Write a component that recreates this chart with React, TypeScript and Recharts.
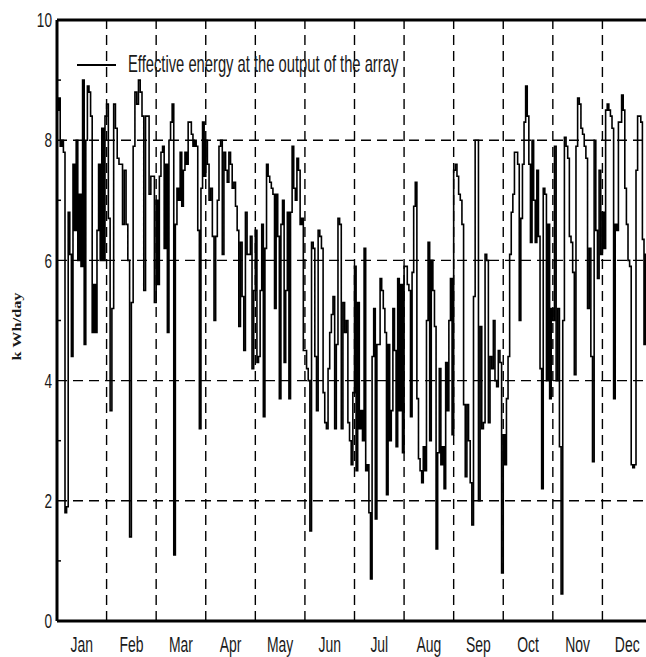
import React from 'react'
import { LineChart, Line, XAxis, YAxis, ReferenceLine } from 'recharts'

// daily effective energy (kWh/day), one array per month
const jan = [8.5, 8.7, 7.9, 8.0, 7.8, 1.8, 1.9, 6.8, 6.1, 4.4, 7.6, 6.5, 8.0, 6.0, 7.1, 5.9, 9.0, 4.6, 8.0, 8.9, 8.8, 8.4, 4.8, 5.6, 4.8, 6.5, 7.6, 6.0, 8.2, 6.0, 8.4]
const feb = [8.6, 6.7, 3.5, 5.2, 8.6, 8.2, 7.7, 7.6, 7.6, 6.6, 7.5, 6.6, 6.0, 1.4, 5.3, 7.9, 8.8, 8.6, 9.0, 8.8, 8.4, 5.5, 8.4, 8.4, 7.1, 7.4, 7.4, 5.3]
const mar = [7.0, 5.6, 7.4, 7.8, 7.9, 6.2, 7.6, 4.8, 8.0, 8.3, 8.6, 1.1, 6.6, 7.2, 7.0, 7.8, 6.9, 7.5, 7.8, 7.6, 8.3, 8.3, 8.1, 7.9, 8.0, 7.9, 6.5, 3.2, 7.2, 8.3, 7.4]
const apr = [8.0, 7.6, 7.0, 7.2, 6.4, 5.0, 6.4, 7.0, 7.9, 8.0, 6.1, 7.8, 7.5, 7.3, 7.8, 7.6, 7.2, 7.3, 6.9, 6.5, 4.9, 6.3, 5.4, 4.5, 6.8, 6.1, 6.1, 6.4, 4.2, 5.5]
const may = [6.5, 4.3, 4.4, 5.5, 6.6, 3.4, 6.2, 7.6, 7.4, 7.3, 7.2, 7.1, 5.2, 7.1, 6.4, 3.7, 6.6, 7.0, 4.3, 5.5, 6.8, 3.7, 6.8, 7.9, 7.2, 7.0, 7.7, 7.5, 6.6, 6.7, 4.5]
const jun = [4.5, 4.2, 4.0, 1.5, 6.3, 6.2, 4.4, 3.5, 6.5, 6.4, 6.2, 3.8, 3.3, 3.2, 4.2, 4.8, 5.1, 5.4, 3.2, 4.6, 6.7, 6.6, 3.2, 5.3, 4.8, 5.0, 3.3, 3.0, 2.6, 3.8]
const jul = [5.9, 2.5, 5.3, 3.2, 3.5, 3.0, 6.2, 2.5, 2.6, 1.8, 0.7, 4.4, 5.2, 1.7, 4.6, 4.6, 5.7, 5.5, 5.2, 4.8, 2.1, 4.6, 3.0, 3.5, 5.2, 4.5, 2.9, 5.7, 3.5, 5.6, 2.8]
const aug = [5.9, 5.9, 5.6, 5.5, 3.4, 5.8, 6.9, 7.3, 3.7, 2.7, 2.5, 2.3, 2.9, 2.5, 5.0, 6.3, 3.0, 6.0, 5.5, 4.9, 1.2, 2.8, 4.2, 2.6, 2.9, 2.2, 4.3, 3.5, 5.0, 5.7, 3.1]
const sep = [7.5, 7.6, 7.4, 7.1, 7.0, 6.6, 3.6, 2.4, 3.6, 3.0, 2.3, 1.6, 5.4, 8.0, 8.0, 2.0, 4.9, 3.2, 3.3, 6.1, 6.0, 3.3, 4.4, 4.2, 5.0, 4.0, 3.9, 4.5, 4.3, 0.8]
const oct = [3.1, 2.6, 3.7, 4.4, 6.1, 6.8, 7.1, 7.8, 7.8, 7.6, 5.0, 6.7, 7.6, 8.3, 8.9, 8.4, 7.6, 6.3, 8.0, 7.0, 6.3, 7.5, 6.4, 4.2, 2.2, 7.2, 7.1, 4.0, 6.6, 3.7, 5.2]
const nov = [5.0, 7.9, 4.0, 5.2, 2.9, 0.45, 5.0, 8.05, 7.9, 7.7, 6.4, 6.3, 5.8, 4.1, 7.9, 8.7, 8.6, 8.2, 8.1, 7.9, 7.7, 5.2, 6.2, 4.4, 2.65, 8.0, 6.5, 5.7, 7.5, 6.1]
const dec = [6.8, 6.2, 8.5, 8.6, 8.5, 8.4, 8.2, 3.7, 6.6, 6.5, 8.3, 8.3, 8.75, 8.5, 7.2, 6.6, 6.0, 5.9, 2.6, 2.55, 2.6, 7.5, 8.4, 8.4, 8.3, 6.35, 4.6, 6.1, 7.5, 8.0, 6.9]

const months = ['Jan', 'Feb', 'Mar', 'Apr', 'May', 'Jun', 'Jul', 'Aug', 'Sep', 'Oct', 'Nov', 'Dec']
const monthValues = [jan, feb, mar, apr, may, jun, jul, aug, sep, oct, nov, dec]
const yTicks = [0, 2, 4, 6, 8, 10]
const yMinorTicks = [1, 3, 5, 7, 9]
const seriesName = 'Effective energy at the output of the array'
const yLabel = 'k Wh/day'

// x is measured in months, each month split evenly into its days
const data = monthValues.flatMap((vals, m) =>
  vals.map((v, j) => ({ x: m + j / vals.length, v }))
)

const sans = "'Liberation Sans', Arial, sans-serif"

function MonthTick({ x, y, payload }: any) {
  return (
    <g transform={`translate(${x},${y}) scale(0.82,1.27)`}>
      <text x={0} y={18} textAnchor="middle" fontSize={17} fill="#1a1a1a" fontFamily={sans}>
        {months[Math.floor(payload.value)]}
      </text>
    </g>
  )
}

function ValueTick({ x, y, payload }: any) {
  const v = payload.value
  if (v % 2 === 1) {
    // small inner tick on the axis
    return <line x1={x + 5} x2={x + 9} y1={y} y2={y} stroke="#000" strokeWidth={1.5} />
  }
  return (
    <g transform={`translate(${x},${y}) scale(0.85,1.3)`}>
      <text x={0} y={0} textAnchor="end" dominantBaseline="central" fontSize={16} fill="#1a1a1a" fontFamily={sans}>
        {v}
      </text>
    </g>
  )
}

function AxisTitle({ viewBox }: any) {
  const cx = viewBox.x + 17
  const cy = viewBox.y + viewBox.height / 2 + 6
  return (
    <g transform={`translate(${cx},${cy}) rotate(-90) scale(1.3,1)`}>
      <text textAnchor="middle" dominantBaseline="central" fontSize={12.5} fontWeight="bold" fill="#1a1a1a" fontFamily="'Liberation Serif', 'Times New Roman', serif">
        {yLabel}
      </text>
    </g>
  )
}

export default function App() {
  const allTicks = [...yTicks, ...yMinorTicks].sort((a, b) => a - b)
  return (
    <div style={{ position: 'fixed', left: 0, top: 0, width: 646, height: 657, overflow: 'hidden', background: '#fff' }}>
      <LineChart width={652} height={657} data={data} margin={{ top: 20, right: 0, bottom: 6, left: 0 }}>
        {months.slice(1).map((_, i) => (
          <ReferenceLine key={'v' + i} x={i + 1} stroke="#000" strokeWidth={1.4} strokeDasharray="10 6" />
        ))}
        {yTicks.slice(1, -1).map((t) => (
          <ReferenceLine key={'h' + t} y={t} stroke="#000" strokeWidth={1.4} strokeDasharray="10 6" />
        ))}
        <ReferenceLine y={10} stroke="#000" strokeWidth={3} />
        <XAxis
          dataKey="x"
          type="number"
          domain={[0, 12]}
          ticks={months.map((_, i) => i + 0.5)}
          interval={0}
          tick={<MonthTick />}
          tickLine={false}
          tickSize={0}
          tickMargin={8}
          height={30}
          axisLine={{ stroke: '#000', strokeWidth: 3 }}
        />
        <YAxis
          type="number"
          domain={[0, 10]}
          ticks={allTicks}
          interval={0}
          tick={<ValueTick />}
          tickLine={false}
          tickSize={0}
          tickMargin={5}
          width={57}
          axisLine={{ stroke: '#000', strokeWidth: 3 }}
          label={<AxisTitle />}
        />
        <Line
          type="stepAfter"
          dataKey="v"
          stroke="#000"
          strokeWidth={1.6}
          dot={false}
          isAnimationActive={false}
        />
      </LineChart>
      <svg width={646} height={120} style={{ position: 'absolute', left: 0, top: 0, pointerEvents: 'none' }}>
        <line x1={77} x2={116} y1={65} y2={65} stroke="#000" strokeWidth={2} />
        <g transform="translate(128,72) scale(0.82,1.3)">
          <text x={0} y={0} fontSize={18} fill="#1a1a1a" fontFamily={sans}>
            {seriesName}
          </text>
        </g>
      </svg>
    </div>
  )
}
